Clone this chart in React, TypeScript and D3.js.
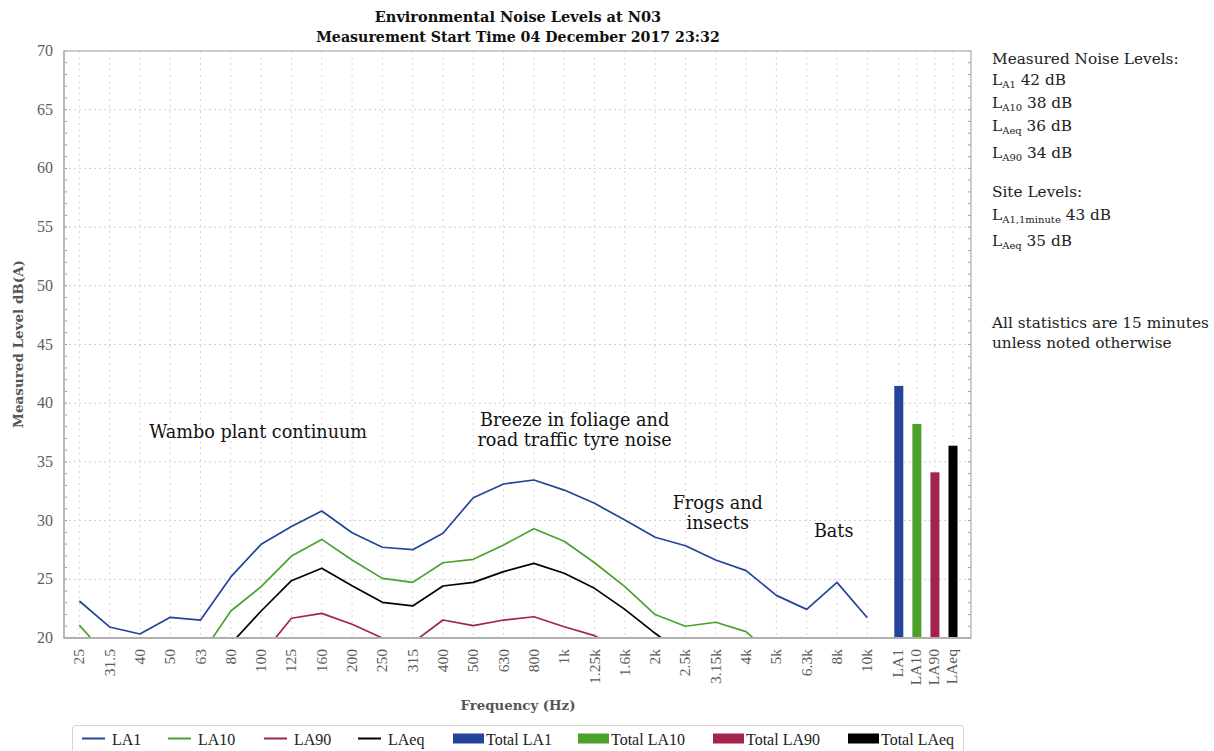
import React from "react";
import * as d3 from "d3";

const freqLabels = ["25","31.5","40","50","63","80","100","125","160","200","250","315","400","500","630","800","1k","1.25k","1.6k","2k","2.5k","3.15k","4k","5k","6.3k","8k","10k"];
const la1 = [23.15,20.94,20.34,21.76,21.53,25.2,27.98,29.5,30.82,28.97,27.73,27.52,28.92,31.95,33.12,33.46,32.6,31.47,30.05,28.58,27.86,26.64,25.74,23.63,22.44,24.74,21.73];
const la10 = [21.1,18.2,17.5,17.8,18.5,22.3,24.37,26.98,28.4,26.64,25.08,24.74,26.41,26.7,27.92,29.31,28.24,26.41,24.37,22.0,21.0,21.34,20.54,18.2,17.5,17.8,17.0];
const la90 = [17.0,16.5,16.0,16.2,16.5,17.5,18.5,21.68,22.1,21.17,20.0,19.6,21.53,21.05,21.53,21.81,20.96,20.2,18.8,17.8,17.0,16.8,16.5,16.0,15.5,15.5,15.0];
const laeq = [18.5,17.5,17.0,17.5,18.0,19.5,22.3,24.88,25.94,24.45,23.04,22.73,24.43,24.74,25.65,26.36,25.51,24.23,22.44,20.4,18.5,18.0,17.5,16.8,16.3,16.5,16.0];
const totalLabels = ["LA1","LA10","LA90","LAeq"];
const totalValues = [41.47,38.23,34.11,36.38];
const yTicks = [20,25,30,35,40,45,50,55,60,65,70];

const seriesNames = ["LA1","LA10","LA90","LAeq"];
const seriesData = [la1, la10, la90, laeq];
const colors = ["#24449b", "#4ba12b", "#a2244b", "#000000"];

const annotations = [
  { lines: ["Wambo plant continuum"], f: "100", v: 37.04, dx: -3 },
  { lines: ["Breeze in foliage and", "road traffic tyre noise"], f: "630", v: 38.06, dx: 71 },
  { lines: ["Frogs and", "insects"], f: "3.15k", v: 30.99, dx: 2 },
  { lines: ["Bats"], f: "6.3k", v: 28.6, dx: 27 },
];

const rightText = [
  { main: "Measured Noise Levels:", y: 64 },
  { main: "L", sub: "A1", rest: " 42 dB", y: 85 },
  { main: "L", sub: "A10", rest: " 38 dB", y: 108 },
  { main: "L", sub: "Aeq", rest: " 36 dB", y: 131 },
  { main: "L", sub: "A90", rest: " 34 dB", y: 158 },
  { main: "Site Levels:", y: 197 },
  { main: "L", sub: "A1,1minute", rest: " 43 dB", y: 220 },
  { main: "L", sub: "Aeq", rest: " 35 dB", y: 246 },
  { main: "All statistics are 15 minutes", y: 328 },
  { main: "unless noted otherwise", y: 348 },
];

const W = 1214, H = 751;
const left = 64, right = 971, top = 51, bottom = 638;
const serif = "'DejaVu Serif', serif";
const tnr = "'Liberation Serif', serif";

export default function App() {
  const x = d3.scalePoint<string>().domain(freqLabels).range([79.3, 867.3]);
  const xb = d3.scalePoint<string>().domain(totalLabels).range([898.8, 953]);
  const y = d3.scaleLinear().domain([20, 70]).range([bottom, top]);
  const line = d3.line<number>().x((_, i) => x(freqLabels[i])!).y((v) => y(v));
  const minor = d3.range(20, 71, 1);
  const barW = 9;

  const legendItems = [
    ...seriesNames.map((n, i) => ({ label: n, color: colors[i], kind: "line" })),
    ...seriesNames.map((n, i) => ({ label: "Total " + n, color: colors[i], kind: "rect" })),
  ];
  const legendX = [82, 168, 264, 358, 453, 578, 713, 848];

  return (
    <svg width={W} height={H} style={{ position: "absolute", left: 0, top: 0, background: "#fff" }}>
      <defs>
        <clipPath id="plotclip">
          <rect x={left} y={top} width={right - left} height={bottom - top} />
        </clipPath>
      </defs>
      {/* title */}
      <text x={518} y={22} textAnchor="middle" fontFamily={serif} fontWeight="bold" fontSize={14.5} fill="#111">Environmental Noise Levels at N03</text>
      <text x={518} y={42} textAnchor="middle" fontFamily={serif} fontWeight="bold" fontSize={14.2} fill="#111">Measurement Start Time 04 December 2017 23:32</text>

      {/* grid */}
      {yTicks.filter((t) => t > 20 && t < 70).map((t) => (
        <line key={"gy" + t} x1={left} x2={right} y1={y(t)} y2={y(t)} stroke="#cfcfcf" strokeDasharray="2,3" />
      ))}
      {freqLabels.map((f) => (
        <line key={"gx" + f} x1={x(f)} x2={x(f)} y1={top} y2={bottom} stroke="#d6d6d6" strokeDasharray="2,4" />
      ))}
      {totalLabels.map((f) => (
        <line key={"gb" + f} x1={xb(f)} x2={xb(f)} y1={top} y2={bottom} stroke="#d6d6d6" strokeDasharray="2,4" />
      ))}

      {/* minor ticks */}
      {minor.map((t) => (
        <g key={"mt" + t}>
          <line x1={left} x2={left + 3} y1={y(t)} y2={y(t)} stroke="#999" />
          <line x1={right - 3} x2={right} y1={y(t)} y2={y(t)} stroke="#999" />
        </g>
      ))}

      {/* lines */}
      <g clipPath="url(#plotclip)">
        {seriesData.map((s, i) => (
          <path key={seriesNames[i]} d={line(s)!} fill="none" stroke={colors[i]} strokeWidth={1.7} strokeLinejoin="round" />
        ))}
      </g>

      {/* bars */}
      {totalLabels.map((t, i) => (
        <rect key={"bar" + t} x={xb(t)! - barW / 2} y={y(totalValues[i])} width={barW} height={bottom - y(totalValues[i])} fill={colors[i]} />
      ))}

      {/* frame */}
      <rect x={left} y={top} width={right - left} height={bottom - top} fill="none" stroke="#bdbdbd" strokeWidth={1.5} />
      <line x1={left} x2={right} y1={bottom} y2={bottom} stroke="#b0b0b0" strokeWidth={2} />
      <line x1={left} x2={left} y1={top} y2={bottom} stroke="#b8b8b8" strokeWidth={2} />

      {/* y tick labels */}
      {yTicks.map((t) => (
        <text key={"yt" + t} x={53} y={y(t) + 5} textAnchor="end" fontFamily={tnr} fontSize={16} fill="#606060">{t}</text>
      ))}

      {/* x tick labels */}
      {freqLabels.map((f) => (
        <text key={"xt" + f} transform={`translate(${x(f)! + 5},649) rotate(-90)`} textAnchor="end" fontFamily={tnr} fontSize={15.5} fill="#5a5a5a">{f}</text>
      ))}
      {totalLabels.map((f) => (
        <text key={"xtb" + f} transform={`translate(${xb(f)! + 4},649) rotate(-90)`} textAnchor="end" fontFamily={tnr} fontSize={15.5} fill="#5a5a5a">{f}</text>
      ))}

      {/* axis titles */}
      <text x={518} y={710} textAnchor="middle" fontFamily={serif} fontWeight="bold" fontSize={13.3} fill="#555">Frequency (Hz)</text>
      <text transform="translate(23,344) rotate(-90)" textAnchor="middle" fontFamily={serif} fontWeight="bold" fontSize={13.5} fill="#555">Measured Level dB(A)</text>

      {/* annotations */}
      {annotations.map((a, i) => (
        <text key={"an" + i} x={x(a.f)! + a.dx} y={y(a.v)} textAnchor="middle" fontFamily={serif} fontSize={17.6} fill="#111">
          {a.lines.map((l, j) => (
            <tspan key={j} x={x(a.f)! + a.dx} dy={j === 0 ? 0 : 20}>{l}</tspan>
          ))}
        </text>
      ))}

      {/* right text */}
      {rightText.map((r, i) => (
        <text key={"rt" + i} x={992} y={r.y} fontFamily={serif} fontSize={15.3} fill="#222">
          {r.main}
          {r.sub && <tspan fontSize={10} dy={3}>{r.sub}</tspan>}
          {r.rest && <tspan dy={-3}>{r.rest}</tspan>}
        </text>
      ))}

      {/* legend */}
      <rect x={72.5} y={725.5} width={891} height={40} rx={3} fill="#fff" stroke="#d4d4d4" />
      {legendItems.map((it, i) => (
        <g key={"lg" + i}>
          {it.kind === "line" ? (
            <line x1={legendX[i]} x2={legendX[i] + 23} y1={738.5} y2={738.5} stroke={it.color} strokeWidth={2} />
          ) : (
            <rect x={legendX[i]} y={733.5} width={31} height={10} fill={it.color} />
          )}
          <text x={legendX[i] + (it.kind === "line" ? 30 : 33)} y={745} fontFamily={tnr} fontSize={16} fill="#222">{it.label}</text>
        </g>
      ))}
    </svg>
  );
}
